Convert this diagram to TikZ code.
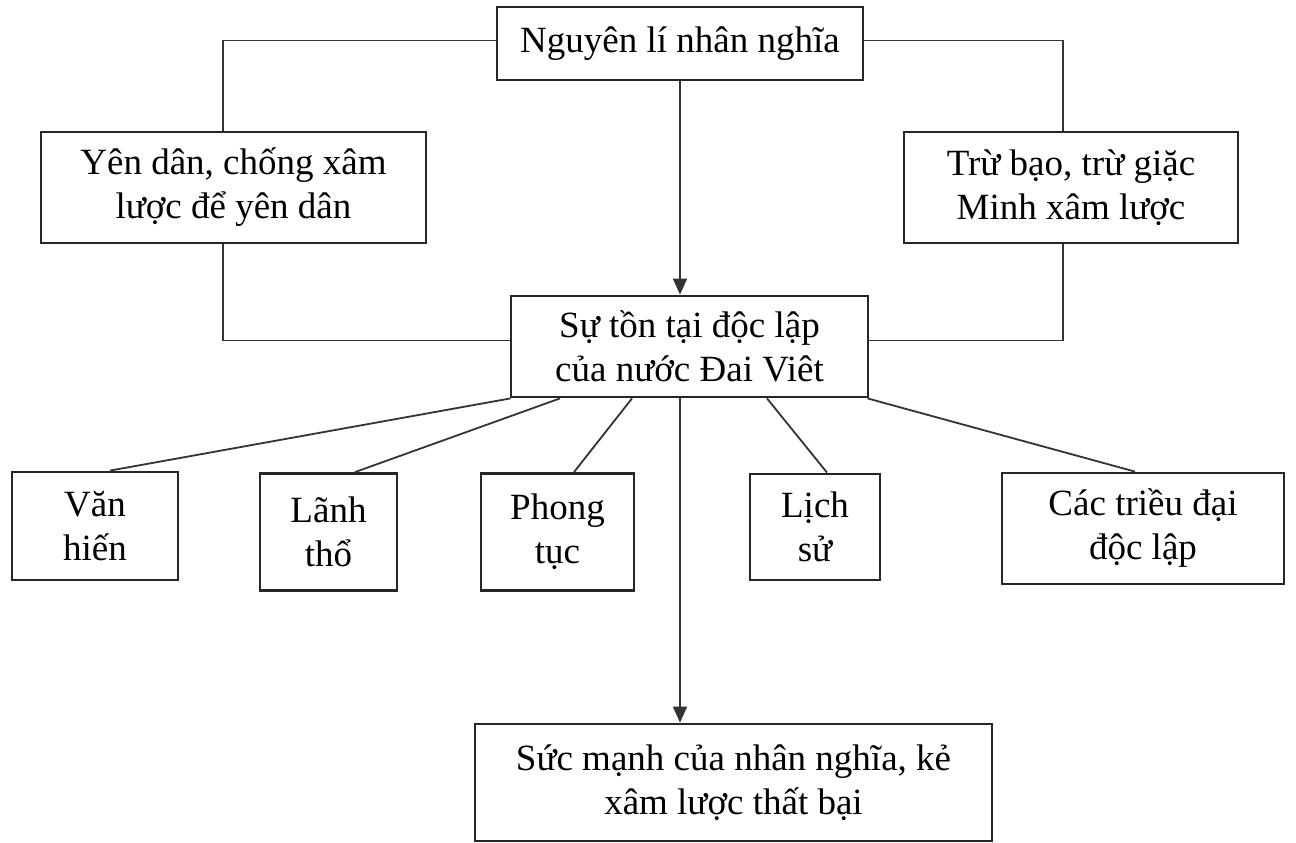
\documentclass[tikz,border=0pt]{standalone}
\usepackage{fontspec}
\setmainfont{Liberation Serif}
\usetikzlibrary{arrows.meta,calc}
\tikzset{
  box/.style={draw=black!85, line width=2.8pt, inner sep=0pt, align=center,
    font=\fontsize{37}{44}\selectfont},
  conn/.style={draw=black!80, line width=1.8pt},
  arr/.style={conn, -{Triangle[width=14pt,length=16pt]}}
}
\begin{document}
\begin{tikzpicture}[x=1pt,y=-1pt]
\useasboundingbox[fill=white] (0,0) rectangle (1296,843);
\node[box, minimum width=366pt, minimum height=73pt] (top) at (680,43.5) {Nguyên lí nhân nghĩa};
\node[box, minimum width=385pt, minimum height=111pt] (L) at (233.5,187.5) {Yên dân, chống xâm\\lược để yên dân};
\node[box, minimum width=334pt, minimum height=111pt] (R) at (1071,187.5) {Trừ bạo, trừ giặc\\Minh xâm lược};
\node[box, minimum width=357pt, minimum height=101pt] (mid) at (689.5,346.5) {Sự tồn tại độc lập\\của nước Đai Viêt};
\node[box, minimum width=166pt, minimum height=108pt] (v1) at (95,526) {Văn\\hiến};
\node[box, minimum width=137pt, minimum height=117pt] (v2) at (328.5,532) {Lãnh\\thổ};
\node[box, minimum width=153pt, minimum height=117pt] (v3) at (557.5,532) {Phong\\tục};
\node[box, minimum width=130pt, minimum height=106pt] (v4) at (815,527) {Lịch\\sử};
\node[box, minimum width=282pt, minimum height=111pt] (v5) at (1143,528.5) {Các triều đại\\độc lập};
\node[box, minimum width=517pt, minimum height=117pt] (bot) at (733.5,782.5) {Sức mạnh của nhân nghĩa, kẻ\\xâm lược thất bại};
% top connections
\draw[conn] ([yshift=3pt]top.west) -| ([xshift=-10.5pt]L.north);
\draw[conn] ([yshift=3pt]top.east) -| ([xshift=-8pt]R.north);
\draw[arr] (top.south) -- (top.south |- mid.north);
\draw[conn] ([xshift=-10.5pt]L.south) |- ([yshift=6pt]mid.west);
\draw[conn] ([xshift=-8pt]R.south) |- ([yshift=6pt]mid.east);
% fan
\draw[conn] ([xshift=-179pt]mid.south) -- ([xshift=15pt]v1.north);
\draw[conn] ([xshift=-129.5pt]mid.south) -- ([xshift=26.5pt]v2.north);
\draw[conn] ([xshift=-57.5pt]mid.south) -- ([xshift=16.5pt]v3.north);
\draw[conn] ([xshift=77.5pt]mid.south) -- ([xshift=12pt]v4.north);
\draw[conn] ([xshift=178pt]mid.south) -- ([xshift=-8pt]v5.north);
\draw[arr] (mid.south -| top.south) -- (bot.north -| top.south);
\end{tikzpicture}
\end{document}
